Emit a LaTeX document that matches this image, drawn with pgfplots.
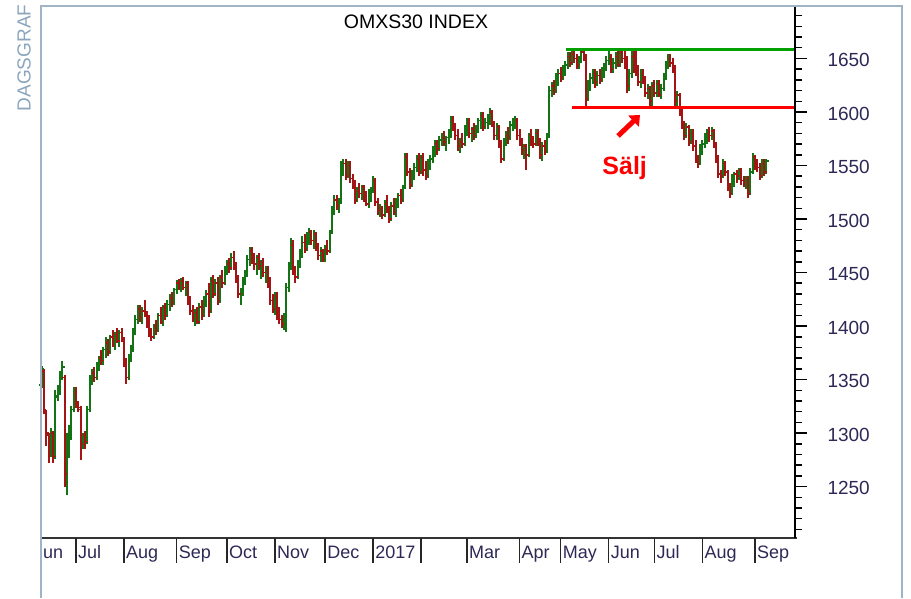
\documentclass[border=0pt]{standalone}
\usepackage{fontspec}
\setmainfont{Liberation Sans}
\usepackage{pgfplots}
\usepackage{pgfplotstable}
\pgfplotsset{compat=1.18}
\usetikzlibrary{arrows.meta}
\definecolor{upc}{RGB}{20,115,20}
\definecolor{dnc}{RGB}{165,20,20}
\definecolor{framec}{RGB}{160,180,200}
\definecolor{dagc}{RGB}{140,165,190}
\definecolor{labc}{RGB}{45,40,85}
\definecolor{linegreen}{RGB}{0,160,0}
\definecolor{linered}{RGB}{255,0,0}
\pgfdeclareplotmark{rtick}{\pgfpathmoveto{\pgfqpoint{0pt}{0pt}}\pgfpathlineto{\pgfqpoint{2.4pt}{0pt}}\pgfusepathqstroke}
\pgfdeclareplotmark{ltick}{\pgfpathmoveto{\pgfqpoint{-2.4pt}{0pt}}\pgfpathlineto{\pgfqpoint{0pt}{0pt}}\pgfusepathqstroke}
\pgfplotstableread{
i o h l c
0 1345 1363 1342 1360
1 1358 1360 1318 1322
2 1320 1322 1288 1300
3 1298 1300 1272 1280
4 1282 1305 1278 1300
5 1300 1302 1272 1278
6 1280 1340 1276 1335
7 1334 1345 1330 1340
8 1340 1358 1336 1352
9 1352 1367 1350 1362
10 1352 1354 1250 1262
11 1262 1300 1242 1292
12 1280 1308 1277 1305
13 1305 1325 1294 1322
14 1322 1343 1320 1338
15 1338 1343 1323 1326
16 1326 1330 1320 1324
17 1322 1325 1275 1290
18 1290 1300 1285 1298
19 1298 1302 1285 1292
20 1292 1325 1290 1322
21 1322 1354 1320 1350
22 1350 1360 1345 1356
23 1356 1362 1348 1352
24 1352 1366 1350 1364
25 1364 1372 1358 1370
26 1370 1378 1364 1368
27 1368 1380 1364 1378
28 1378 1390 1370 1384
29 1384 1388 1372 1376
30 1376 1392 1374 1390
31 1390 1396 1380 1382
32 1382 1394 1378 1392
33 1392 1398 1384 1386
34 1386 1396 1380 1394
35 1394 1398 1385 1388
36 1388 1390 1362 1366
37 1366 1370 1346 1352
38 1352 1374 1350 1370
39 1370 1382 1366 1380
40 1380 1398 1376 1396
41 1396 1410 1392 1406
42 1406 1420 1402 1416
43 1416 1420 1404 1408
44 1408 1418 1402 1414
45 1414 1424 1408 1412
46 1412 1414 1398 1402
47 1402 1410 1390 1394
48 1394 1398 1386 1390
49 1390 1402 1388 1400
50 1400 1406 1392 1396
51 1396 1412 1394 1410
52 1410 1418 1402 1404
53 1404 1420 1400 1418
54 1418 1422 1406 1410
55 1410 1424 1408 1420
56 1420 1430 1414 1426
57 1426 1432 1418 1422
58 1422 1436 1420 1434
59 1434 1443 1430 1440
60 1440 1444 1434 1438
61 1438 1445 1432 1442
62 1442 1446 1434 1436
63 1436 1442 1428 1440
64 1440 1442 1420 1424
65 1424 1428 1410 1414
66 1414 1420 1404 1408
67 1408 1416 1400 1412
68 1412 1418 1402 1404
69 1404 1422 1402 1418
70 1418 1424 1406 1410
71 1410 1428 1408 1424
72 1424 1434 1418 1430
73 1430 1440 1408 1414
74 1414 1446 1412 1442
75 1442 1448 1426 1430
76 1430 1444 1428 1440
77 1440 1446 1420 1424
78 1424 1448 1422 1446
79 1446 1452 1436 1440
80 1440 1456 1438 1452
81 1452 1462 1448 1458
82 1458 1464 1450 1454
83 1454 1468 1452 1464
84 1464 1470 1452 1456
85 1456 1460 1440 1444
86 1444 1448 1426 1430
87 1430 1436 1420 1432
88 1432 1446 1428 1442
89 1442 1452 1438 1450
90 1450 1466 1446 1462
91 1462 1474 1456 1470
92 1470 1474 1458 1462
93 1462 1468 1452 1458
94 1458 1466 1448 1464
95 1464 1468 1452 1456
96 1456 1462 1444 1460
97 1460 1464 1446 1450
98 1450 1456 1440 1452
99 1452 1456 1436 1440
100 1440 1446 1420 1424
101 1424 1430 1412 1416
102 1416 1432 1410 1428
103 1428 1432 1406 1410
104 1410 1418 1402 1406
105 1406 1410 1398 1402
106 1402 1412 1396 1408
107 1408 1440 1394 1436
108 1436 1460 1432 1456
109 1456 1482 1452 1476
110 1476 1480 1448 1452
111 1452 1456 1440 1446
112 1446 1462 1444 1460
113 1460 1472 1454 1468
114 1468 1484 1464 1478
115 1478 1486 1468 1472
116 1472 1488 1470 1484
117 1484 1492 1476 1488
118 1488 1490 1476 1480
119 1480 1490 1472 1486
120 1486 1488 1470 1474
121 1474 1478 1462 1466
122 1466 1474 1460 1470
123 1470 1472 1460 1462
124 1462 1476 1460 1472
125 1472 1480 1466 1470
126 1470 1490 1468 1488
127 1488 1512 1486 1508
128 1508 1522 1504 1518
129 1518 1522 1508 1512
130 1512 1520 1506 1516
131 1516 1554 1514 1548
132 1548 1556 1540 1552
133 1552 1556 1536 1540
134 1540 1554 1538 1550
135 1550 1554 1534 1538
136 1538 1542 1528 1532
137 1532 1536 1514 1518
138 1518 1530 1516 1526
139 1526 1534 1520 1524
140 1524 1532 1518 1530
141 1530 1532 1516 1520
142 1520 1526 1512 1514
143 1514 1528 1510 1524
144 1524 1530 1516 1528
145 1528 1540 1524 1536
146 1536 1538 1512 1516
147 1516 1520 1504 1508
148 1508 1514 1502 1510
149 1510 1512 1500 1504
150 1504 1518 1502 1514
151 1514 1522 1506 1508
152 1508 1512 1496 1500
153 1500 1516 1498 1512
154 1512 1520 1504 1506
155 1506 1520 1502 1516
156 1516 1524 1510 1522
157 1522 1528 1514 1518
158 1518 1532 1516 1530
159 1530 1562 1528 1558
160 1558 1562 1540 1544
161 1544 1548 1528 1532
162 1532 1546 1530 1540
163 1540 1552 1536 1548
164 1548 1560 1544 1556
165 1556 1562 1540 1544
166 1544 1560 1542 1558
167 1558 1562 1540 1546
168 1546 1554 1536 1540
169 1540 1556 1538 1552
170 1552 1560 1546 1556
171 1556 1568 1552 1564
172 1564 1574 1558 1570
173 1570 1574 1560 1566
174 1566 1578 1564 1574
175 1574 1580 1568 1576
176 1576 1582 1568 1572
177 1572 1578 1564 1576
178 1576 1584 1570 1580
179 1580 1596 1576 1592
180 1592 1596 1582 1586
181 1586 1590 1574 1578
182 1578 1584 1564 1568
183 1568 1576 1562 1572
184 1572 1580 1566 1570
185 1570 1588 1568 1584
186 1584 1594 1578 1590
187 1590 1594 1576 1580
188 1580 1586 1572 1584
189 1584 1590 1574 1578
190 1578 1588 1576 1586
191 1586 1594 1580 1592
192 1592 1600 1584 1596
193 1596 1600 1582 1586
194 1586 1594 1584 1590
195 1590 1598 1584 1594
196 1594 1604 1588 1600
197 1600 1602 1586 1590
198 1590 1592 1574 1578
199 1578 1590 1574 1586
200 1586 1588 1566 1570
201 1570 1574 1552 1556
202 1556 1576 1554 1572
203 1572 1582 1568 1578
204 1578 1586 1570 1576
205 1576 1592 1574 1588
206 1588 1594 1582 1590
207 1590 1596 1584 1592
208 1592 1594 1574 1578
209 1578 1584 1568 1572
210 1572 1576 1560 1564
211 1564 1570 1556 1568
212 1568 1570 1546 1560
213 1560 1580 1558 1578
214 1578 1584 1568 1574
215 1574 1578 1566 1570
216 1570 1584 1568 1580
217 1580 1584 1568 1572
218 1572 1576 1556 1560
219 1560 1572 1554 1568
220 1568 1574 1560 1564
221 1564 1580 1562 1578
222 1578 1624 1576 1620
223 1620 1628 1614 1624
224 1624 1630 1616 1620
225 1620 1636 1618 1632
226 1632 1640 1624 1636
227 1636 1642 1628 1632
228 1632 1644 1630 1640
229 1640 1648 1634 1644
230 1644 1656 1640 1652
231 1652 1656 1642 1646
232 1646 1658 1644 1654
233 1654 1658 1646 1650
234 1650 1654 1640 1644
235 1644 1652 1640 1648
236 1648 1658 1646 1656
237 1656 1658 1648 1652
238 1652 1654 1606 1612
239 1612 1630 1610 1626
240 1626 1636 1620 1632
241 1632 1640 1626 1636
242 1636 1640 1622 1628
243 1628 1638 1624 1634
244 1634 1640 1626 1630
245 1630 1642 1628 1640
246 1640 1646 1632 1644
247 1644 1652 1638 1648
248 1648 1660 1644 1650
249 1650 1654 1636 1640
250 1640 1650 1636 1646
251 1646 1656 1640 1652
252 1652 1658 1642 1644
253 1644 1660 1642 1656
254 1656 1660 1646 1650
255 1650 1660 1640 1648
256 1648 1652 1618 1624
257 1624 1640 1620 1636
258 1636 1660 1632 1652
259 1652 1658 1636 1640
260 1640 1660 1634 1638
261 1638 1644 1624 1628
262 1628 1640 1622 1636
263 1636 1640 1626 1630
264 1630 1634 1614 1618
265 1618 1626 1612 1622
266 1622 1624 1606 1610
267 1610 1628 1604 1624
268 1624 1630 1614 1618
269 1618 1630 1614 1626
270 1626 1630 1614 1616
271 1616 1626 1612 1622
272 1622 1636 1620 1634
273 1634 1648 1630 1644
274 1644 1654 1640 1650
275 1650 1654 1642 1646
276 1646 1650 1636 1640
277 1640 1644 1606 1610
278 1610 1620 1604 1616
279 1616 1618 1596 1600
280 1600 1604 1584 1588
281 1588 1592 1574 1578
282 1578 1590 1576 1586
283 1586 1588 1568 1572
284 1572 1584 1570 1580
285 1580 1584 1564 1568
286 1568 1574 1552 1556
287 1556 1560 1548 1552
288 1552 1570 1550 1566
289 1566 1574 1560 1570
290 1570 1580 1566 1576
291 1576 1584 1570 1580
292 1580 1586 1572 1578
293 1578 1586 1574 1582
294 1582 1584 1566 1568
295 1568 1572 1552 1556
296 1556 1560 1538 1542
297 1542 1546 1534 1540
298 1540 1556 1538 1552
299 1552 1554 1540 1544
300 1544 1546 1526 1530
301 1530 1534 1520 1524
302 1524 1542 1522 1538
303 1538 1544 1530 1542
304 1542 1546 1534 1540
305 1540 1548 1536 1546
306 1546 1548 1532 1536
307 1536 1540 1530 1534
308 1534 1540 1528 1538
309 1538 1540 1520 1524
310 1524 1548 1522 1544
311 1544 1562 1542 1558
312 1558 1560 1546 1550
313 1550 1556 1544 1548
314 1548 1552 1536 1540
315 1540 1556 1538 1552
316 1552 1556 1540 1544
317 1544 1556 1542 1554
}\ohlc
\begin{document}
\begin{tikzpicture}
\begin{axis}[
  scale only axis, width=754pt, height=532pt,
  xmin=-0.3, xmax=329.5, ymin=1202, ymax=1699,
  axis line style={draw=none},
  xtick=\empty,
  ytick={1250,1300,...,1650},
  minor ytick={1210,1220,...,1690},
  ytick pos=right, yticklabel pos=right,
  tick align=outside,
  major tick length=12pt, minor tick length=7pt,
  major tick style={black, line width=1.5pt},
  minor tick style={black, line width=1.5pt},
  yticklabel style={font=\fontsize{19}{19}\selectfont, text=labc, anchor=west, xshift=17pt, yshift=-1.5pt},
  /pgf/number format/assume math mode=true,
  /pgf/number format/1000 sep={},
  clip mode=individual,
]
% up bars
\addplot[color=upc, only marks, mark=rtick, mark options={line width=1.6pt},
  restrict expr to domain={\thisrow{c}-\thisrow{o}}{0:1000},
  error bars/.cd, y dir=both, y explicit, error mark=none,
  error bar style={upc, line width=2pt}]
  table[x=i, y=c, y error plus expr=\thisrow{h}-\thisrow{c}, y error minus expr=\thisrow{c}-\thisrow{l}] {\ohlc};
\addplot[color=upc, only marks, mark=ltick, mark options={line width=1.6pt},
  restrict expr to domain={\thisrow{c}-\thisrow{o}}{0:1000}]
  table[x=i, y=o] {\ohlc};
% down bars
\addplot[color=dnc, only marks, mark=rtick, mark options={line width=1.6pt},
  restrict expr to domain={\thisrow{c}-\thisrow{o}}{-1000:-0.01},
  error bars/.cd, y dir=both, y explicit, error mark=none,
  error bar style={dnc, line width=2pt}]
  table[x=i, y=c, y error plus expr=\thisrow{h}-\thisrow{c}, y error minus expr=\thisrow{c}-\thisrow{l}] {\ohlc};
\addplot[color=dnc, only marks, mark=ltick, mark options={line width=1.6pt},
  restrict expr to domain={\thisrow{c}-\thisrow{o}}{-1000:-0.01}]
  table[x=i, y=o] {\ohlc};
% support / resistance lines
\addplot[linegreen, line width=3pt] coordinates {(229.4,1658) (329.5,1658)};
\addplot[linered, line width=3pt] coordinates {(232,1604.5) (329.5,1604.5)};
\draw[linered, line width=5pt, -{Triangle[length=9pt,width=15pt]}] (axis cs:252.1,1577.6) -- (axis cs:261.7,1597.2);
\node[anchor=base, text=linered, font=\fontsize{25}{25}\selectfont\bfseries] at (axis cs:255,1542) {Sälj};
% axis lines
\draw[black!80, line width=1.5pt] (axis cs:-0.3,1202) -- (axis cs:329.5,1202) -- ++(2pt,0pt);
\draw[black, line width=1.5pt] (axis cs:329.5,1202) -- (axis cs:329.5,1699);
% month separators
\pgfplotsinvokeforeach{15,36,59,81,102,124,145,166,186,209,227,248,268,289,312}{
  \draw[black!85, line width=1.5pt] (axis cs:#1,1202) -- ++(0pt,-25pt);
}
\tikzset{mlab/.style={anchor=base west, text=labc, font=\fontsize{18}{18}\selectfont, inner sep=0pt, xshift=2pt, yshift=-20.5pt}}
\node[mlab] at (axis cs:-0.3,1202) {un};
\node[mlab] at (axis cs:15,1202) {Jul};
\node[mlab] at (axis cs:36,1202) {Aug};
\node[mlab] at (axis cs:59,1202) {Sep};
\node[mlab] at (axis cs:81,1202) {Oct};
\node[mlab] at (axis cs:102,1202) {Nov};
\node[mlab] at (axis cs:124,1202) {Dec};
\node[mlab] at (axis cs:145,1202) {2017};
\node[mlab] at (axis cs:186,1202) {Mar};
\node[mlab] at (axis cs:209,1202) {Apr};
\node[mlab] at (axis cs:227,1202) {May};
\node[mlab] at (axis cs:248,1202) {Jun};
\node[mlab] at (axis cs:268,1202) {Jul};
\node[mlab] at (axis cs:289,1202) {Aug};
\node[mlab] at (axis cs:312,1202) {Sep};
\end{axis}
\draw[framec, line width=1.5pt] (0pt,-60pt) -- (0pt,532pt) -- (861pt,532pt) -- (861pt,-60pt);
\node[font=\fontsize{19.5}{19.5}\selectfont] at (375pt,516pt) {OMXS30 INDEX};
\node[rotate=90, text=dagc, font=\fontsize{19}{19}\selectfont] at (-17pt,480pt) {DAGSGRAF};
\pgfresetboundingbox
\path[use as bounding box] (-41pt,-60pt) rectangle (870pt,538pt);
\end{tikzpicture}
\end{document}
